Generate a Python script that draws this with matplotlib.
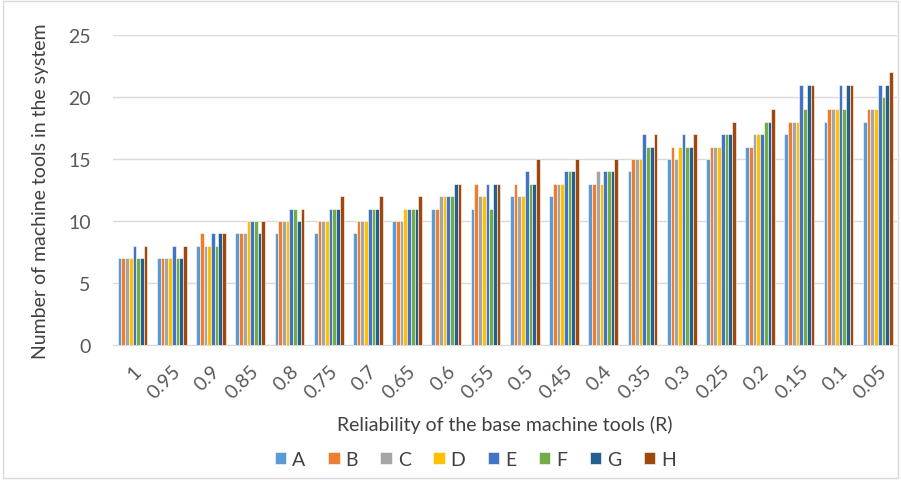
import numpy as np
import matplotlib.pyplot as plt
from matplotlib.patches import Rectangle

plt.rcParams['font.family'] = ['Lato', 'DejaVu Sans']

categories = ["1", "0.95", "0.9", "0.85", "0.8", "0.75", "0.7", "0.65", "0.6", "0.55",
              "0.5", "0.45", "0.4", "0.35", "0.3", "0.25", "0.2", "0.15", "0.1", "0.05"]

# rows: reliability groups, columns: series A..H
values = [
    [7, 7, 7, 7, 8, 7, 7, 8],
    [7, 7, 7, 7, 8, 7, 7, 8],
    [8, 9, 8, 8, 9, 8, 9, 9],
    [9, 9, 9, 10, 10, 10, 9, 10],
    [9, 10, 10, 10, 11, 11, 10, 11],
    [9, 10, 10, 10, 11, 11, 11, 12],
    [9, 10, 10, 10, 11, 11, 11, 12],
    [10, 10, 10, 11, 11, 11, 11, 12],
    [11, 11, 12, 12, 12, 12, 13, 13],
    [11, 13, 12, 12, 13, 11, 13, 13],
    [12, 13, 12, 12, 14, 13, 13, 15],
    [12, 13, 13, 13, 14, 14, 14, 15],
    [13, 13, 14, 13, 14, 14, 14, 15],
    [14, 15, 15, 15, 17, 16, 16, 17],
    [15, 16, 15, 16, 17, 16, 16, 17],
    [15, 16, 16, 16, 17, 17, 17, 18],
    [16, 16, 17, 17, 17, 18, 18, 19],
    [17, 18, 18, 18, 21, 19, 21, 21],
    [18, 19, 19, 19, 21, 19, 21, 21],
    [18, 19, 19, 19, 21, 20, 21, 22],
]

series = ["A", "B", "C", "D", "E", "F", "G", "H"]
colors = ["#5B9BD5", "#ED7D31", "#A5A5A5", "#FFC000",
          "#4472C4", "#70AD47", "#255E91", "#9E480E"]

data = np.array(values)
n = len(categories)
x = np.arange(n)

fig = plt.figure(figsize=(9.01, 4.81), dpi=100)
fig.patches.append(Rectangle((0.003, 0.005), 0.994, 0.99, transform=fig.transFigure,
                             fill=False, edgecolor="#D9D9D9", linewidth=1))
ax = fig.add_axes([0.1254, 0.2807, 0.8706, 0.6445])

w = 0.095
for j, s in enumerate(series):
    ax.bar(x + (j - 3.5) * w, data[:, j], width=w, color=colors[j],
           edgecolor="white", linewidth=0.4, label=s, zorder=3)

ax.set_xlim(-0.5, n - 0.5)
ax.set_ylim(0, 25)
ax.set_yticks(range(0, 26, 5))
ax.yaxis.grid(True, color="#D9D9D9", linewidth=1, zorder=0)
for sp in ["top", "right", "left"]:
    ax.spines[sp].set_visible(False)
ax.spines["bottom"].set_color("#D9D9D9")
ax.tick_params(axis="both", length=0, labelsize=14, colors="#595959")
ax.tick_params(axis="y", pad=16)
ax.set_xticks(x)
ax.set_xticklabels(categories, rotation=45, ha="right", rotation_mode="anchor")
ax.tick_params(axis="x", pad=12)

ax.set_ylabel("Number of machine tools in the system", fontsize=14, color="#404040", labelpad=14)
ax.set_xlabel("Reliability of the base machine tools (R)", fontsize=14, color="#404040", labelpad=10)

ax.legend(loc="center", bbox_to_anchor=(0.462, -0.368), ncol=8, frameon=False,
          fontsize=14, handlelength=0.6, handleheight=0.6, handletextpad=0.3,
          columnspacing=1.15, labelcolor="#404040")

fig.savefig("out.png", dpi=100)
